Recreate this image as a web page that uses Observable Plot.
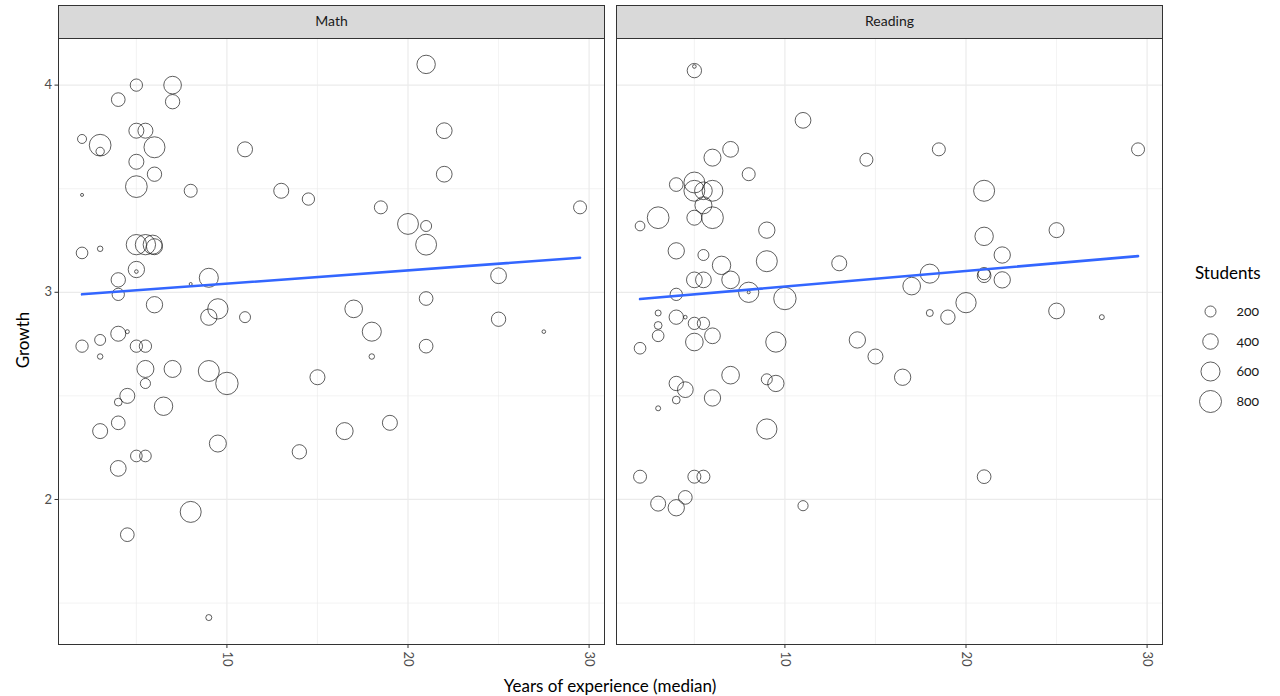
<!DOCTYPE html>
<html><head><meta charset="utf-8">
<script src="https://cdn.jsdelivr.net/npm/d3@7"></script>
<script src="https://cdn.jsdelivr.net/npm/@observablehq/plot@0.6"></script>
<style>
body{margin:0;background:#fff;font-family:Lato,"Open Sans",sans-serif;font-variant-numeric:oldstyle-nums;}
#wrap{position:relative;width:1280px;height:696px;overflow:hidden;background:#fff}
#main{position:absolute;left:0;top:0}
#legend{position:absolute;left:1190px;top:286px}
.lbl{position:absolute;font-size:17px;color:#000;white-space:nowrap;line-height:1}
</style></head><body><div id="wrap">
<div id="main"></div>
<div id="legend"></div>
<div class="lbl" style="left:1195px;top:264px">Students</div>
<div class="lbl" id="xlab" style="left:610px;top:677px;transform:translateX(-50%)">Years of experience (median)</div>
<div class="lbl" id="ylab" style="left:22px;top:340px;transform:translate(-50%,-50%) rotate(-90deg)">Growth</div>
</div>
<script>
// ---- data ----
const subjects = ["Math", "Reading"];
const mathExp = [5.0,7.0,7.0,4.0,2.0,3.0,3.0,5.0,5.5,6.0,5.0,6.0,5.0,2.0,8.0,11.0,13.0,14.5,2.0,3.0,5.0,5.5,5.9,6.0,5.0,5.0,4.0,4.0,8.0,9.0,6.0,9.5,9.0,11.0,2.0,3.0,3.0,4.0,4.5,5.0,5.5,5.5,5.5,7.0,9.0,10.0,15.0,4.5,4.0,6.5,4.0,3.0,9.5,14.0,5.0,5.5,4.0,8.0,4.5,9.0,21.0,22.0,22.0,18.5,20.0,21.0,21.0,29.5,25.0,21.0,17.0,18.0,25.0,27.5,18.0,21.0,16.5,19.0];
const mathGrowth = [4.00,4.00,3.92,3.93,3.74,3.71,3.68,3.78,3.78,3.70,3.63,3.57,3.51,3.47,3.49,3.69,3.49,3.45,3.19,3.21,3.23,3.23,3.23,3.22,3.11,3.10,3.06,2.99,3.04,3.07,2.94,2.92,2.88,2.88,2.74,2.77,2.69,2.80,2.81,2.74,2.74,2.63,2.56,2.63,2.62,2.56,2.59,2.50,2.47,2.45,2.37,2.33,2.27,2.23,2.21,2.21,2.15,1.94,1.83,1.43,4.10,3.78,3.57,3.41,3.33,3.32,3.23,3.41,3.08,2.97,2.92,2.81,2.87,2.81,2.69,2.74,2.33,2.37];
const mathStudents = [250,515,340,310,134,780,115,372,372,729,372,340,780,15,279,372,372,250,225,50,680,680,600,423,440,22,340,250,15,600,440,680,440,200,250,200,50,372,26,250,250,478,170,478,729,830,372,372,100,560,310,372,478,340,225,225,410,729,310,60,560,410,410,279,720,200,720,279,410,310,515,600,340,22,50,310,478,372];
const readExp = [5.0,5.0,11.0,14.5,7.0,6.0,8.0,4.0,5.0,5.0,5.5,6.0,5.5,6.0,5.0,3.0,2.0,9.0,4.0,5.5,6.5,9.0,13.0,5.0,5.5,7.0,4.0,8.0,8.0,10.0,3.0,4.0,4.5,3.0,5.0,5.5,2.0,3.0,5.0,6.0,9.5,14.0,15.0,7.0,4.0,4.5,4.0,3.0,6.0,9.0,9.5,9.0,2.0,5.0,5.5,3.0,4.0,4.5,11.0,18.5,29.5,21.0,25.0,21.0,22.0,18.0,17.0,21.0,21.0,22.0,20.0,18.0,19.0,25.0,27.5,16.5,21.0];
const readGrowth = [4.07,4.09,3.83,3.64,3.69,3.65,3.57,3.52,3.53,3.49,3.49,3.49,3.42,3.36,3.36,3.36,3.32,3.30,3.20,3.18,3.13,3.15,3.14,3.06,3.06,3.06,2.99,3.00,3.00,2.97,2.90,2.88,2.88,2.84,2.85,2.85,2.73,2.79,2.76,2.79,2.76,2.77,2.69,2.60,2.56,2.53,2.48,2.44,2.49,2.58,2.56,2.34,2.11,2.11,2.11,1.98,1.96,2.01,1.97,3.69,3.69,3.49,3.30,3.27,3.18,3.09,3.03,3.09,3.08,3.06,2.95,2.90,2.88,2.91,2.88,2.59,2.11];
const readStudents = [340,22,410,279,410,478,279,310,720,720,515,720,478,780,372,780,155,440,440,200,560,729,372,410,410,515,250,680,15,830,60,340,22,100,250,250,225,225,515,410,680,440,372,515,340,410,100,41,440,200,440,680,279,279,279,372,440,310,170,279,279,729,372,560,440,600,515,250,310,440,680,81,340,410,41,440,310];
const xTicks = [10, 20, 30];
const xMinor = [5, 15, 25];
const yTicks = [2, 3, 4];
const yMinor = [1.5, 2.5, 3.5];
const legendValues = [200, 400, 600, 800];

// table built from the arrays
const rows = [
  ...mathExp.map((e, i) => ({subject: "Math", exp: e, growth: mathGrowth[i], students: mathStudents[i]})),
  ...readExp.map((e, i) => ({subject: "Reading", exp: e, growth: readGrowth[i], students: readStudents[i]}))
];

// least-squares fit per subject (weighted by students), evaluated at the data's x extent
function fit(sub) {
  const d = rows.filter(r => r.subject === sub);
  const sw = d3.sum(d, r => r.students);
  const mx = d3.sum(d, r => r.students * r.exp) / sw;
  const my = d3.sum(d, r => r.students * r.growth) / sw;
  const sxy = d3.sum(d, r => r.students * (r.exp - mx) * (r.growth - my));
  const sxx = d3.sum(d, r => r.students * (r.exp - mx) ** 2);
  const b = sxy / sxx, a = my - b * mx;
  const [x0, x1] = d3.extent(d, r => r.exp);
  return [x0, x1].map(x => ({subject: sub, exp: x, growth: a + b * x}));
}
const fitRows = subjects.flatMap(fit);

const rScale = {type: "sqrt", domain: [0, 800], range: [0, 11]};
const font = "Lato, 'Open Sans', sans-serif";

const chart = Plot.plot({
  width: 1170, height: 696,
  marginTop: 38, marginBottom: 52, marginLeft: 58, marginRight: 7,
  style: {fontFamily: font, background: "#fff", overflow: "visible", color: "#1A1A1A", fontVariantNumeric: "oldstyle-nums"},
  x: {domain: [0.7, 30.85], axis: null},
  y: {domain: [1.3, 4.225], axis: null},
  fx: {domain: subjects, paddingInner: 0.0215, paddingOuter: 0, axis: null},
  r: rScale,
  marks: [
    Plot.frame({fill: "#D9D9D9", stroke: "#333", strokeWidth: 1, insetTop: -33, insetBottom: 606}),
    Plot.text(subjects, {fx: d => d, text: d => d, frameAnchor: "top", lineAnchor: "middle", dy: -16.5, fontSize: 14, fill: "#1A1A1A"}),
    Plot.gridX(xMinor, {stroke: "#EBEBEB", strokeOpacity: 1, strokeWidth: 0.6}),
    Plot.gridY(yMinor, {stroke: "#EBEBEB", strokeOpacity: 1, strokeWidth: 0.6}),
    Plot.gridX(xTicks, {stroke: "#EBEBEB", strokeOpacity: 1, strokeWidth: 1.2}),
    Plot.gridY(yTicks, {stroke: "#EBEBEB", strokeOpacity: 1, strokeWidth: 1.2}),
    Plot.dot(rows, {x: "exp", y: "growth", r: "students", fx: "subject", stroke: "#1a1a1a", strokeWidth: 0.7, fill: "none"}),
    Plot.line(fitRows, {x: "exp", y: "growth", fx: "subject", z: "subject", stroke: "#3366FF", strokeWidth: 2.6}),
    Plot.frame({stroke: "#333", strokeWidth: 1}),
    Plot.axisX(xTicks, {tickSize: 4, tickRotate: 90, tickPadding: 3, fontSize: 13, stroke: "#333", fill: "#4D4D4D", label: null}),
    Plot.axisY(yTicks, {tickSize: 3.5, tickPadding: 3, fontSize: 13, stroke: "#333", fill: "#4D4D4D", label: null, tickFormat: d => String(d)})
  ]
});
document.getElementById("main").appendChild(chart);

const legend = Plot.plot({
  width: 90, height: 130, margin: 0,
  style: {fontFamily: font, background: "transparent", overflow: "visible", fontVariantNumeric: "oldstyle-nums"},
  r: rScale,
  x: {axis: null},
  y: {type: "point", domain: legendValues, range: [25, 115], padding: 0, axis: null},
  marks: [
    Plot.dot(legendValues, {y: d => d, r: d => d, frameAnchor: "left", dx: 20, stroke: "#1a1a1a", strokeWidth: 0.7, fill: "none"}),
    Plot.text(legendValues, {y: d => d, text: d => String(d), frameAnchor: "left", dx: 46, textAnchor: "start", fontSize: 14, fill: "#1A1A1A"})
  ]
});
document.getElementById("legend").appendChild(legend);
</script></body></html>
